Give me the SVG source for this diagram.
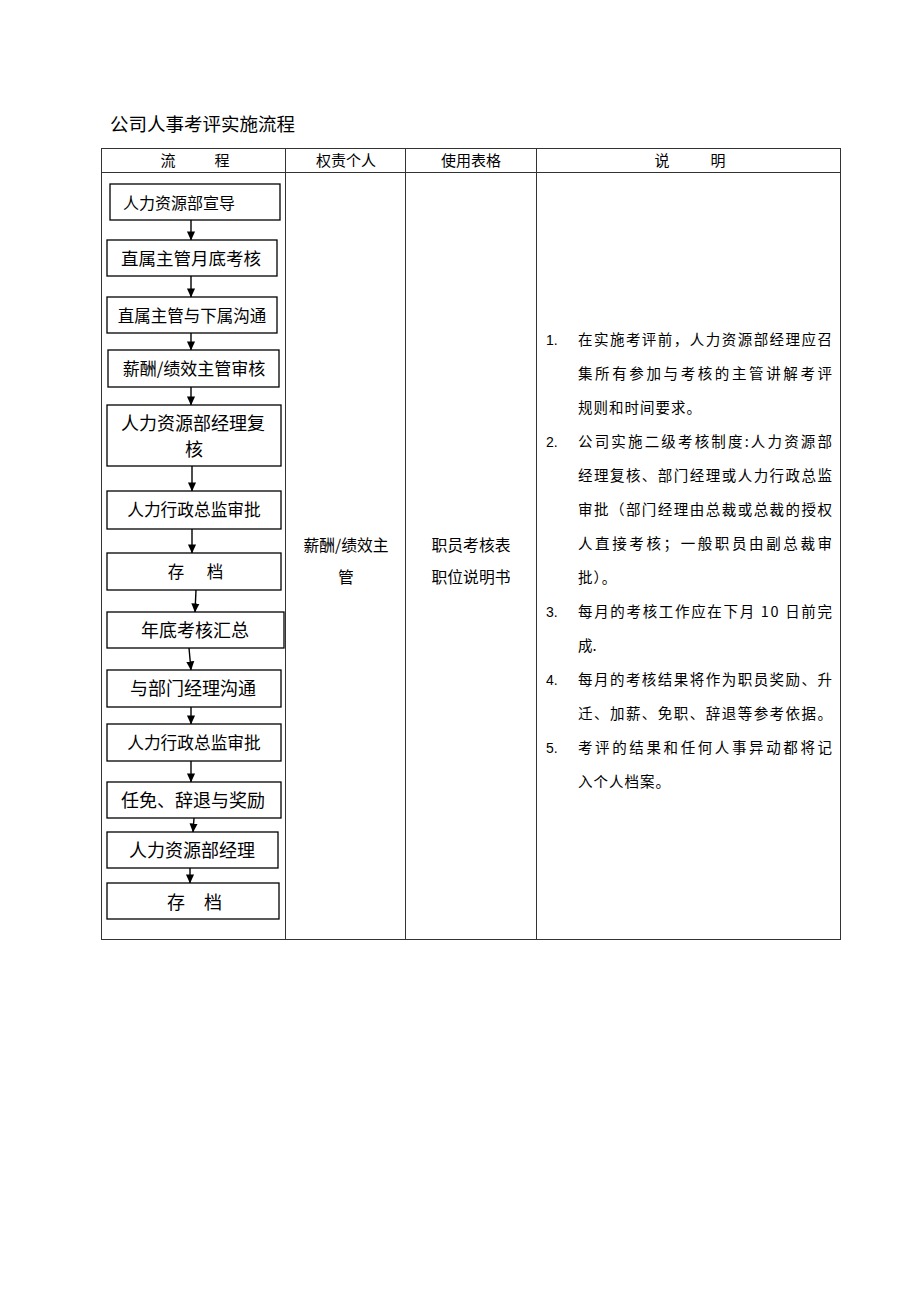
<svg xmlns="http://www.w3.org/2000/svg" width="920" height="1302" viewBox="0 0 920 1302">
<defs>
<marker id="ah" markerWidth="9" markerHeight="10" refX="9.5" refY="4.5" orient="auto" markerUnits="userSpaceOnUse" viewBox="0 0 10 9"><path d="M0,0 L10,4.5 L0,9 Z" fill="#000"/></marker>
<style>
text{font-family:"Noto Sans CJK SC","Liberation Sans",sans-serif;fill:#000}
.tbl{fill:none;stroke:#333;stroke-width:1}
.box{fill:#fff;stroke:#000;stroke-width:1.3}
.bt{text-anchor:middle}
.hd{font-size:15px;text-anchor:middle}
.mid{font-size:15.8px;text-anchor:middle}
.desc{font-size:14.5px}
.num{font-family:"Liberation Sans","DejaVu Sans",sans-serif;font-size:14px}
.arr{stroke:#000;stroke-width:1.4;fill:none;marker-end:url(#ah)}
</style>
</defs>
<rect width="920" height="1302" fill="#fff"/>
<text x="110" y="131" font-size="18.5">公司人事考评实施流程</text>
<g id="table">
<rect class="tbl" x="101.5" y="148.5" width="739" height="791"/>
<line class="tbl" x1="101.5" y1="172.5" x2="840.5" y2="172.5"/>
<line class="tbl" x1="285.5" y1="148.5" x2="285.5" y2="939.5"/>
<line class="tbl" x1="405.5" y1="148.5" x2="405.5" y2="939.5"/>
<line class="tbl" x1="536.5" y1="148.5" x2="536.5" y2="939.5"/>
<text class="hd" x="168" y="166">流</text>
<text class="hd" x="222" y="166">程</text>
<text class="hd" x="346" y="166">权责个人</text>
<text class="hd" x="471" y="166">使用表格</text>
<text class="hd" x="662" y="166">说</text>
<text class="hd" x="718" y="166">明</text>
<text class="mid" x="346" y="551">薪酬/绩效主</text>
<text class="mid" x="346" y="583">管</text>
<text class="mid" x="471" y="551">职员考核表</text>
<text class="mid" x="471" y="583">职位说明书</text>
</g>
<g id="connectors">
<line class="arr" x1="191" y1="220" x2="191" y2="240"/>
<line class="arr" x1="191" y1="276" x2="191" y2="297"/>
<line class="arr" x1="191" y1="333" x2="191" y2="350"/>
<line class="arr" x1="191" y1="387" x2="191" y2="405"/>
<line class="arr" x1="192" y1="466" x2="192" y2="491"/>
<line class="arr" x1="192" y1="529" x2="192" y2="553"/>
<line class="arr" x1="196" y1="590" x2="195" y2="612"/>
<line class="arr" x1="189" y1="648" x2="191" y2="670"/>
<line class="arr" x1="191" y1="707" x2="191" y2="724"/>
<line class="arr" x1="191" y1="761" x2="191" y2="782"/>
<line class="arr" x1="194" y1="818" x2="193" y2="832"/>
<line class="arr" x1="190" y1="868" x2="190" y2="883"/>
</g>
<g id="n1"><rect class="box" x="110" y="184" width="170" height="36"/><text class="bt" x="179" y="209" font-size="16">人力资源部宣导</text></g>
<g id="n2"><rect class="box" x="107" y="240" width="170" height="36"/><text class="bt" x="191" y="265" font-size="17.5">直属主管月底考核</text></g>
<g id="n3"><rect class="box" x="107" y="297" width="170" height="36"/><text class="bt" x="192" y="322" font-size="16.5">直属主管与下属沟通</text></g>
<g id="n4"><rect class="box" x="108" y="350" width="171" height="37"/><text class="bt" x="194" y="375" font-size="17">薪酬/绩效主管审核</text></g>
<g id="n5"><rect class="box" x="107" y="405" width="174" height="61"/><text class="bt" x="193" y="430" font-size="18">人力资源部经理复</text><text class="bt" x="194" y="456" font-size="18">核</text></g>
<g id="n6"><rect class="box" x="107" y="491" width="174" height="38"/><text class="bt" x="194" y="516" font-size="16.7">人力行政总监审批</text></g>
<g id="n7"><rect class="box" x="107" y="553" width="174" height="37"/><text class="bt" x="176" y="578" font-size="16.5">存</text><text class="bt" x="215" y="578" font-size="16.5">档</text></g>
<g id="n8"><rect class="box" x="107" y="612" width="177" height="36"/><text class="bt" x="195" y="637" font-size="18">年底考核汇总</text></g>
<g id="n9"><rect class="box" x="107" y="670" width="174" height="37"/><text class="bt" x="193" y="695" font-size="18">与部门经理沟通</text></g>
<g id="n10"><rect class="box" x="107" y="724" width="174" height="37"/><text class="bt" x="194" y="749" font-size="16.7">人力行政总监审批</text></g>
<g id="n11"><rect class="box" x="107" y="782" width="174" height="36"/><text class="bt" x="193" y="807" font-size="18">任免、辞退与奖励</text></g>
<g id="n12"><rect class="box" x="107" y="832" width="171" height="36"/><text class="bt" x="192" y="857" font-size="18">人力资源部经理</text></g>
<g id="n13"><rect class="box" x="107" y="883" width="172" height="36"/><text class="bt" x="176" y="909" font-size="18">存</text><text class="bt" x="213" y="909" font-size="18">档</text></g>
<g id="notes">
<text class="num" x="546" y="345">1.</text>
<text class="desc" x="578" y="345" textLength="254" lengthAdjust="spacing">在实施考评前，人力资源部经理应召</text>
<text class="desc" x="578" y="379" textLength="254" lengthAdjust="spacing">集所有参加与考核的主管讲解考评</text>
<text class="desc" x="578" y="413" letter-spacing="1">规则和时间要求。</text>
<text class="num" x="546" y="447">2.</text>
<text class="desc" x="578" y="447" textLength="254" lengthAdjust="spacing">公司实施二级考核制度:人力资源部</text>
<text class="desc" x="578" y="481" textLength="254" lengthAdjust="spacing">经理复核、部门经理或人力行政总监</text>
<text class="desc" x="578" y="515" textLength="254" lengthAdjust="spacing">审批（部门经理由总裁或总裁的授权</text>
<text class="desc" x="578" y="549" textLength="254" lengthAdjust="spacing">人直接考核；一般职员由副总裁审</text>
<text class="desc" x="578" y="583" letter-spacing="1">批）。</text>
<text class="num" x="546" y="617">3.</text>
<text class="desc" x="578" y="617" textLength="254" lengthAdjust="spacing">每月的考核工作应在下月 10 日前完</text>
<text class="desc" x="578" y="651">成.</text>
<text class="num" x="546" y="685">4.</text>
<text class="desc" x="578" y="685" textLength="254" lengthAdjust="spacing">每月的考核结果将作为职员奖励、升</text>
<text class="desc" x="578" y="719" textLength="254" lengthAdjust="spacing">迁、加薪、免职、辞退等参考依据。</text>
<text class="num" x="546" y="753">5.</text>
<text class="desc" x="578" y="753" textLength="254" lengthAdjust="spacing">考评的结果和任何人事异动都将记</text>
<text class="desc" x="578" y="787" letter-spacing="1">入个人档案。</text>
</g>
</svg>
